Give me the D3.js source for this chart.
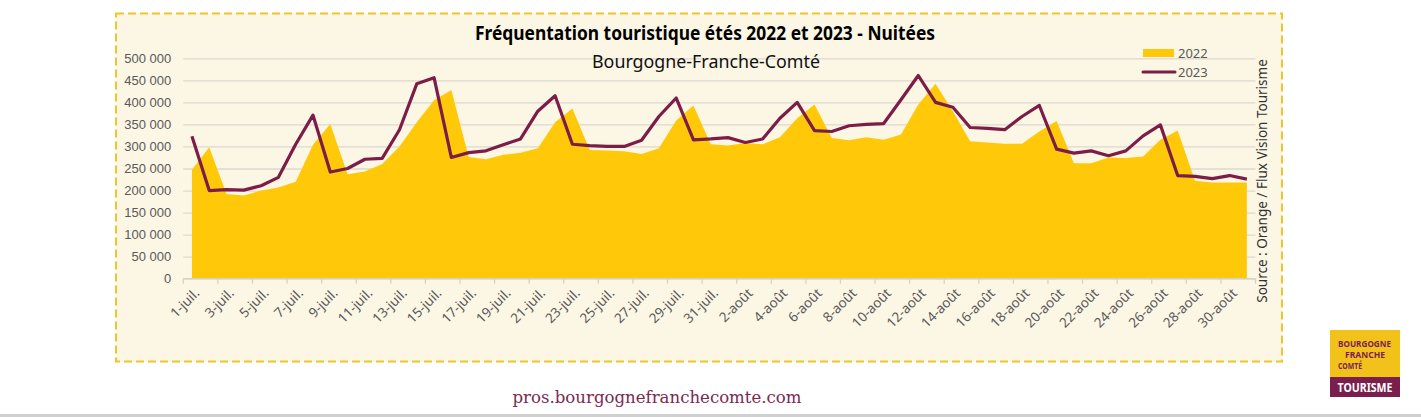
<!DOCTYPE html>
<html>
<head>
<meta charset="utf-8">
<script src="https://cdn.jsdelivr.net/npm/d3@7"></script>
<style>
  body { margin: 0; background: #fff; }
  svg { display: block; }
</style>
</head>
<body>
<div id="chart"></div>
<script>
// days of july + august, one label per day
const days = [
  '1-juil.', '2-juil.', '3-juil.', '4-juil.', '5-juil.', '6-juil.', '7-juil.', '8-juil.',
  '9-juil.', '10-juil.', '11-juil.', '12-juil.', '13-juil.', '14-juil.', '15-juil.', '16-juil.',
  '17-juil.', '18-juil.', '19-juil.', '20-juil.', '21-juil.', '22-juil.', '23-juil.', '24-juil.',
  '25-juil.', '26-juil.', '27-juil.', '28-juil.', '29-juil.', '30-juil.', '31-juil.',
  '1-août', '2-août', '3-août', '4-août', '5-août', '6-août', '7-août', '8-août',
  '9-août', '10-août', '11-août', '12-août', '13-août', '14-août', '15-août', '16-août',
  '17-août', '18-août', '19-août', '20-août', '21-août', '22-août', '23-août', '24-août',
  '25-août', '26-août', '27-août', '28-août', '29-août', '30-août', '31-août'
];

const nuitees2022 = [
  247000, 298000, 192000, 189000, 200000, 207000, 220000, 304000, 351000, 237000,
  243000, 260000, 300000, 355000, 405000, 428000, 276000, 271000, 281000, 286000,
  296000, 355000, 386000, 292000, 291000, 289000, 283000, 296000, 359000, 393000,
  305000, 302000, 308000, 305000, 321000, 364000, 395000, 319000, 314000, 321000,
  315000, 327000, 395000, 442000, 380000, 312000, 309000, 306000, 306000, 334000,
  358000, 262000, 262000, 275000, 274000, 277000, 315000, 336000, 222000, 218000,
  218000, 218000
];

const nuitees2023 = [
  323000, 200000, 202000, 201000, 211000, 230000, 305000, 371000, 242000, 250000,
  271000, 273000, 338000, 442000, 456000, 275000, 286000, 290000, 304000, 317000,
  380000, 415000, 305000, 302000, 300000, 300000, 314000, 368000, 410000, 315000,
  317000, 320000, 309000, 317000, 364000, 400000, 336000, 334000, 347000, 350000,
  352000, 406000, 461000, 400000, 389000, 343000, 341000, 338000, 368000, 393000,
  294000, 285000, 290000, 279000, 290000, 324000, 349000, 234000, 232000, 227000,
  234000, 226000
];

const yTicks = [0, 50000, 100000, 150000, 200000, 250000, 300000, 350000, 400000, 450000, 500000];

const W = 1421, H = 417;
const plot = { left: 183.3, right: 1255.5, top: 58.3, bottom: 278.7 };
const yellow = '#ffc90a', maroon = '#7c1d48', grey = '#595959';
const fmt = d => d3.format(',')(d).replace(/,/g, ' ');

const svg = d3.select('#chart').append('svg')
  .attr('width', W).attr('height', H)
  .style('font-family', "'Noto Sans', sans-serif");

// framed panel
svg.append('rect')
  .attr('x', 116).attr('y', 13.5).attr('width', 1166).attr('height', 348)
  .attr('fill', '#fcf6e5')
  .attr('stroke', '#f0c52a').attr('stroke-width', 2)
  .attr('stroke-dasharray', '8 4');

const data = days.map((d, i) => ({ day: d, v22: nuitees2022[i], v23: nuitees2023[i] }));

const x = d3.scaleBand().domain(days).range([plot.left, plot.right]).padding(0);
const cx = d => x(d) + x.bandwidth() / 2;
const y = d3.scaleLinear().domain([0, 500000]).range([plot.bottom, plot.top]);

// gridlines + y labels
const yAxis = svg.append('g')
  .attr('transform', `translate(${plot.left},0)`)
  .call(d3.axisLeft(y).tickValues(yTicks).tickSize(-(plot.right - plot.left)).tickPadding(12).tickFormat(fmt));
yAxis.select('.domain').remove();
yAxis.selectAll('.tick line').attr('stroke', '#dcd8cf').attr('stroke-width', 1.3);
yAxis.selectAll('.tick text').attr('fill', grey).style('font-size', '13px');

// area 2022
svg.append('path')
  .datum(data)
  .attr('fill', yellow)
  .attr('d', d3.area().x(d => cx(d.day)).y0(y(0)).y1(d => y(d.v22)));

// line 2023
svg.append('path')
  .datum(data)
  .attr('fill', 'none')
  .attr('stroke', maroon)
  .attr('stroke-width', 3.2)
  .attr('stroke-linejoin', 'round')
  .attr('d', d3.line().x(d => cx(d.day)).y(d => y(d.v23)));

// x axis: ticks on category boundaries every 2 days, labels at centres
const xg = svg.append('g');
xg.append('line')
  .attr('x1', plot.left).attr('x2', plot.right)
  .attr('y1', plot.bottom).attr('y2', plot.bottom)
  .attr('stroke', '#d6d2c8').attr('stroke-width', 1.3);
const labelled = days.filter((d, i) => i % 2 === 0);
xg.selectAll('.tk').data(labelled.map(d => x(d)).concat([plot.right]))
  .enter().append('line')
  .attr('x1', d => d).attr('x2', d => d)
  .attr('y1', plot.bottom).attr('y2', plot.bottom + 5)
  .attr('stroke', '#d6d2c8').attr('stroke-width', 1.3);
xg.selectAll('.lbl').data(labelled)
  .enter().append('text')
  .attr('transform', d => `translate(${cx(d) + 5},${plot.bottom + 12}) rotate(-45)`)
  .attr('text-anchor', 'end')
  .attr('dy', '0.35em')
  .attr('fill', grey)
  .style('font-size', '13.5px')
  .text(d => d);

// titles
svg.append('text')
  .attr('x', 705).attr('y', 40)
  .attr('text-anchor', 'middle')
  .style('font-size', '20px').style('font-weight', 'bold')
  .attr('textLength', 460).attr('lengthAdjust', 'spacingAndGlyphs')
  .attr('fill', '#000')
  .text('Fréquentation touristique étés 2022 et 2023 - Nuitées');
svg.append('text')
  .attr('x', 706).attr('y', 68)
  .attr('text-anchor', 'middle')
  .style('font-size', '18px')
  .attr('textLength', 228).attr('lengthAdjust', 'spacingAndGlyphs')
  .attr('fill', '#111')
  .text('Bourgogne-Franche-Comté');

// legend
const lg = svg.append('g');
lg.append('rect').attr('x', 1143).attr('y', 49).attr('width', 31).attr('height', 8).attr('fill', yellow);
lg.append('text').attr('x', 1178).attr('y', 57.5).attr('fill', grey).style('font-size', '13px').text('2022');
lg.append('line').attr('x1', 1143).attr('x2', 1175).attr('y1', 72).attr('y2', 72)
  .attr('stroke', maroon).attr('stroke-width', 3).attr('stroke-linecap', 'round');
lg.append('text').attr('x', 1178).attr('y', 77).attr('fill', grey).style('font-size', '13px').text('2023');

// source
svg.append('text')
  .attr('transform', 'translate(1267,181) rotate(-90)')
  .attr('text-anchor', 'middle')
  .attr('fill', '#333')
  .style('font-size', '13.5px')
  .text('Source : Orange / Flux Vision Tourisme');

// logo
const logo = svg.append('g').attr('transform', 'translate(1330,330)');
logo.append('rect').attr('width', 70).attr('height', 47).attr('fill', '#f2c21b');
logo.append('rect').attr('y', 47).attr('width', 70).attr('height', 20).attr('fill', '#7b1e4c');
const lt = [['BOURGOGNE', 8, 17, 53], ['FRANCHE', 15, 28, 40], ['COMTÉ', 8, 38.5, 24]];
lt.forEach(t => logo.append('text').attr('x', t[1]).attr('y', t[2])
  .attr('fill', '#7b1e4c').style('font-size', '9px').style('font-weight', 'bold')
  .attr('textLength', t[3]).attr('lengthAdjust', 'spacingAndGlyphs').text(t[0]));
logo.append('text').attr('x', 35).attr('y', 61.5).attr('text-anchor', 'middle')
  .attr('fill', '#fff').style('font-size', '12px').style('font-weight', 'bold')
  .attr('textLength', 55).attr('lengthAdjust', 'spacingAndGlyphs').text('TOURISME');

// footer
svg.append('text')
  .attr('x', 657).attr('y', 403)
  .attr('text-anchor', 'middle')
  .attr('fill', '#7b2a52')
  .style('font-family', "'DejaVu Serif', serif")
  .style('font-size', '17px')
  .attr('textLength', 289).attr('lengthAdjust', 'spacingAndGlyphs')
  .text('pros.bourgognefranchecomte.com');
svg.append('rect').attr('x', 0).attr('y', 414).attr('width', W).attr('height', 3).attr('fill', '#d0d0d0');
</script>
</body>
</html>
